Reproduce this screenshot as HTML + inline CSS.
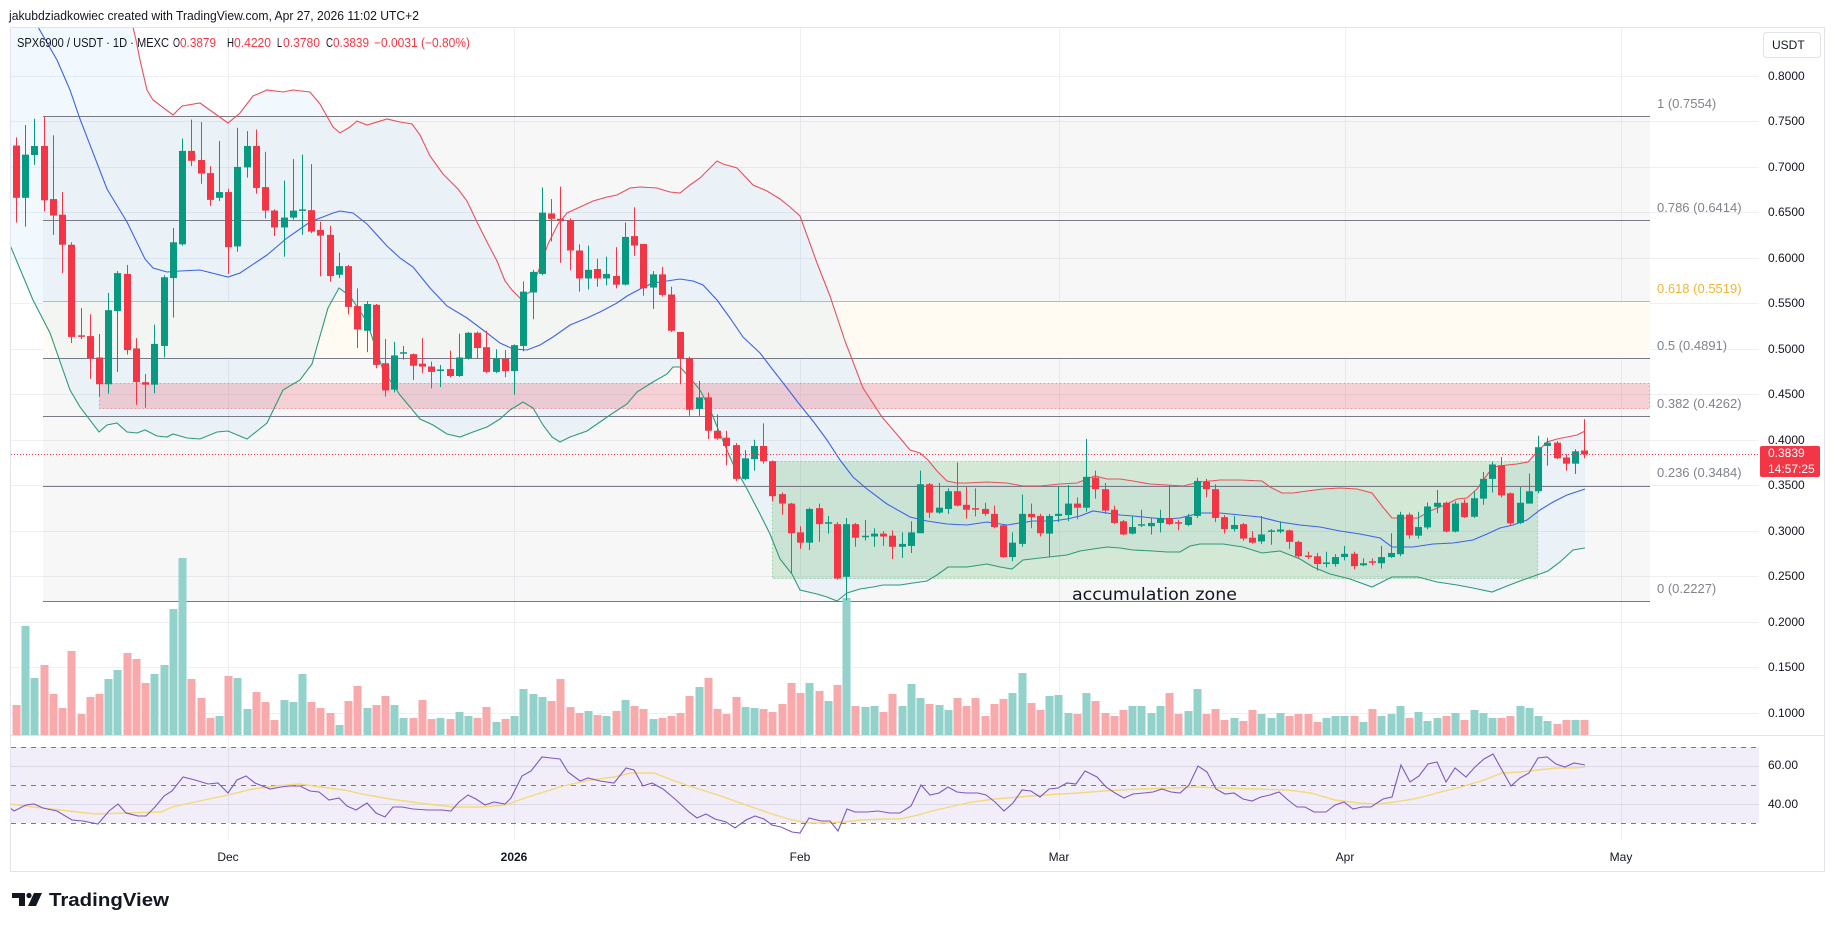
<!DOCTYPE html>
<html><head><meta charset="utf-8">
<style>
html,body{margin:0;padding:0;background:#fff;width:1835px;height:931px;overflow:hidden}
svg{display:block;font-family:"Liberation Sans",Arial,sans-serif}
</style></head>
<body>
<svg id="s" width="1835" height="931" viewBox="0 0 1835 931" xmlns="http://www.w3.org/2000/svg">
<defs>
<clipPath id="cm"><rect x="11" y="28" width="1748" height="707"/></clipPath>
<clipPath id="cr"><rect x="11" y="736" width="1748" height="104"/></clipPath>
</defs>
<rect x="0" y="0" width="1835" height="931" fill="#fff"/>
<rect x="10.5" y="27.5" width="1814" height="844" fill="#fff" stroke="#e0e3eb"/>

<!-- grid -->
<g stroke="#eef0f4" stroke-width="1">
<line x1="11" x2="1759" y1="76.5" y2="76.5"/><line x1="11" x2="1759" y1="121.5" y2="121.5"/>
<line x1="11" x2="1759" y1="167.5" y2="167.5"/><line x1="11" x2="1759" y1="212.5" y2="212.5"/>
<line x1="11" x2="1759" y1="258.5" y2="258.5"/><line x1="11" x2="1759" y1="303.5" y2="303.5"/>
<line x1="11" x2="1759" y1="349.5" y2="349.5"/><line x1="11" x2="1759" y1="394.5" y2="394.5"/>
<line x1="11" x2="1759" y1="440.5" y2="440.5"/><line x1="11" x2="1759" y1="485.5" y2="485.5"/>
<line x1="11" x2="1759" y1="531.5" y2="531.5"/><line x1="11" x2="1759" y1="576.5" y2="576.5"/>
<line x1="11" x2="1759" y1="622.5" y2="622.5"/><line x1="11" x2="1759" y1="667.5" y2="667.5"/>
<line x1="11" x2="1759" y1="713.5" y2="713.5"/>
<line x1="228.5" x2="228.5" y1="28" y2="840"/><line x1="514.5" x2="514.5" y1="28" y2="840"/>
<line x1="800.5" x2="800.5" y1="28" y2="840"/><line x1="1059.5" x2="1059.5" y1="28" y2="840"/>
<line x1="1345.5" x2="1345.5" y1="28" y2="840"/><line x1="1621.5" x2="1621.5" y1="28" y2="840"/>
</g>

<!-- fib backgrounds -->
<rect x="43" y="116" width="1607" height="485" fill="rgba(120,123,134,0.06)"/>
<rect x="43" y="301" width="1607" height="57" fill="#fffbf2"/>

<!-- BB fill -->
<g clip-path="url(#cm)"><polygon id="bbf" fill="rgba(33,150,243,0.06)" points=""/></g>

<!-- zones -->
<rect x="99.5" y="383.5" width="1550" height="25" fill="rgba(242,54,69,0.2)" stroke="rgba(242,54,69,0.45)" stroke-dasharray="2,2"/>
<rect x="772.5" y="461.5" width="765" height="117" fill="rgba(76,175,80,0.2)" stroke="rgba(76,175,80,0.45)" stroke-dasharray="2,2"/>

<!-- fib lines -->
<g stroke="#787b86" stroke-width="1">
<line x1="43" x2="1650" y1="116.5" y2="116.5"/>
<line x1="43" x2="1650" y1="220.5" y2="220.5"/>
<line x1="43" x2="1650" y1="358.5" y2="358.5"/>
<line x1="43" x2="1650" y1="416.5" y2="416.5"/>
<line x1="43" x2="1650" y1="486.5" y2="486.5"/>
<line x1="43" x2="1650" y1="601.5" y2="601.5"/>
</g>
<line x1="43" x2="1650" y1="301.5" y2="301.5" stroke="#f5b52e" stroke-width="1"/>

<g id="vol"></g>

<!-- BB lines -->
<g clip-path="url(#cm)" fill="none" stroke-width="1.1">
<polyline id="bbu" stroke="#e8505c" points="133,27 136,40 140,60 147,90 153,100 173,115 182,106 200,103 228,123 240,113 253,96 267,90 283,92 293,90 310,92 320,104 333,127 340,133 350,127 357,121 367,125 387,119 400,122 412,124 420,135 430,156 443,174 458,189 467,201 477,222 487,242 497,261 505,281 512,290 520,298 530,292 540,267 548,244 558,224 567,213 580,207 593,201 607,197 617,195 630,188 640,187 657,188 670,192 680,193 690,185 700,178 717,161 723,164 737,168 753,185 767,191 780,199 790,207 800,216 817,263 830,296 845,341 863,388 882,417 900,438 910,450 920,453 928,460 937,471 947,481 957,483 967,483 987,482 1007,483 1023,486 1040,486 1060,484 1077,483 1087,479 1095,476 1107,479 1120,479 1133,481 1150,484 1167,485 1183,486 1200,482 1220,480 1240,480 1262,481 1270,487 1282,493 1293,493 1307,491 1323,489 1340,488 1357,489 1372,493 1382,506 1392,518 1403,518 1418,518 1430,511 1447,504 1457,499 1467,498 1477,489 1487,475 1493,467 1507,465 1517,464 1528,462 1537,452 1547,442 1557,439 1567,437 1577,435 1585,431"/>
<polyline stroke="#3d63e8" points="38,27 57,60 70,90 80,119 107,189 127,222 145,259 153,268 167,272 180,271 200,270 228,277 240,273 267,255 287,238 310,222 333,213 340,211 353,213 367,224 387,246 400,258 413,267 430,288 447,306 467,318 487,333 500,343 513,349 527,350 540,345 553,337 570,325 587,318 600,312 617,303 627,296 640,289 653,283 667,281 680,279 693,281 703,285 717,300 730,318 743,337 760,353 773,370 787,388 800,405 813,421 827,440 840,460 853,477 867,489 887,504 910,517 927,521 947,524 967,525 987,522 1007,525 1020,523 1033,521 1053,521 1067,519 1080,516 1093,511 1107,513 1120,515 1133,516 1153,518 1167,519 1180,518 1200,513 1220,513 1240,515 1260,517 1280,522 1300,525 1320,527 1340,531 1360,534 1380,538 1392,547 1413,547 1433,544 1453,543 1473,540 1487,534 1500,528 1513,525 1527,520 1540,510 1553,502 1567,495 1585,489"/>
<polyline id="bbl" stroke="#2f9a78" points="10,245 33,300 50,333 70,390 80,407 99,432 107,425 117,423 127,432 137,433 145,430 157,436 167,437 173,434 187,438 200,439 217,432 228,431 247,439 267,423 283,390 300,380 312,364 328,308 339,288 350,296 367,322 383,370 400,395 410,407 420,419 433,425 447,434 460,437 473,432 487,427 500,419 510,410 523,402 533,408 543,425 552,437 560,442 570,437 587,431 600,422 613,413 627,404 637,392 653,382 667,374 673,367 680,367 690,378 700,390 710,409 720,434 733,464 747,489 760,514 770,534 780,559 792,574 800,590 817,594 827,597 837,601 847,593 860,589 873,587 883,585 900,585 913,583 927,581 937,575 948,567 967,567 987,564 1000,567 1012,569 1023,560 1040,558 1067,555 1080,551 1093,549 1107,547 1120,548 1133,550 1153,551 1167,552 1180,552 1190,546 1200,544 1223,544 1243,547 1262,553 1280,551 1300,559 1313,567 1330,574 1350,579 1372,587 1392,577 1418,577 1437,582 1457,585 1473,588 1492,592 1507,586 1520,581 1537,575 1548,571 1560,562 1573,550 1585,548"/>
</g>

<g id="cnd"></g>

<!-- current price line -->
<line x1="11" x2="1759" y1="454.5" y2="454.5" stroke="#f23645" stroke-width="1" stroke-dasharray="1,2"/>

<!-- accumulation text -->
<text x="1072" y="600" font-family="'DejaVu Sans','Liberation Sans',sans-serif" font-size="17" fill="#131722" textLength="165" lengthAdjust="spacingAndGlyphs">accumulation zone</text>

<!-- pane separator -->
<line x1="11" x2="1824" y1="735.5" y2="735.5" stroke="#e0e3eb"/>

<!-- RSI pane -->
<rect x="11" y="747" width="1748" height="76" fill="rgba(126,87,194,0.1)"/>
<g stroke="rgba(120,123,134,0.18)"><line x1="11" x2="1759" y1="766.5" y2="766.5"/><line x1="11" x2="1759" y1="804.5" y2="804.5"/></g>
<g stroke="#787b86" stroke-dasharray="5,5" stroke-width="1">
<line x1="11" x2="1759" y1="747.5" y2="747.5"/><line x1="11" x2="1759" y1="785.5" y2="785.5"/><line x1="11" x2="1759" y1="823.5" y2="823.5"/>
</g>
<g clip-path="url(#cr)" fill="none">
<polyline stroke="#f3d97a" stroke-width="1.4" points="10,804 34,807 69,811 95,814 126,813 161,812 172,807 195,802 228,795 253,789 276,786 299,784 321,787 344,790 367,795 390,799 419,803 453,807 482,807 505,805 528,797 563,786 591,780 614,777 631,773 654,773 672,780 689,786 718,795 746,805 772,814 792,820 809,823 827,823 844,822 861,820 884,819 900,819 918,815 936,810 954,806 972,802 995,799 1019,797 1043,795 1079,793 1103,791 1139,789 1174,788 1198,787 1222,788 1258,789 1288,790 1311,793 1335,800 1359,803 1377,804 1395,802 1419,798 1437,793 1461,787 1484,780 1502,773 1520,772 1538,770 1556,768 1574,768 1585,767"/>
<polyline stroke="#7e57c2" stroke-width="1.1" points="10,808 14,811 26,805 34,804 43,808 57,811 72,820 83,821 98,824 109,811 118,804 126,813 138,816 146,816 155,807 164,796 172,791 183,777 195,780 208,784 218,783 228,793 237,780 246,776 255,783 270,789 281,787 290,786 300,786 310,791 319,792 329,800 339,798 347,806 356,810 367,803 376,813 385,817 393,807 402,807 413,809 428,810 442,810 451,811 459,802 468,795 476,799 485,805 494,802 505,804 511,798 522,776 531,771 542,757 551,758 560,759 568,772 580,781 588,778 600,781 614,783 626,768 634,770 643,786 652,783 663,789 675,799 689,812 697,818 706,814 715,819 726,822 735,828 746,820 755,816 764,819 772,825 781,827 792,832 800,833 809,818 821,821 830,821 838,831 847,809 855,812 867,812 878,811 890,813 900,813 911,806 921,785 930,795 939,793 948,787 957,792 966,793 978,793 986,795 995,802 1004,811 1013,803 1022,790 1031,791 1040,797 1049,789 1058,788 1067,783 1076,784 1085,771 1097,777 1106,787 1115,793 1124,798 1133,794 1144,793 1153,792 1162,789 1171,792 1180,793 1189,785 1198,766 1207,772 1216,789 1225,794 1234,793 1243,799 1252,801 1261,797 1270,795 1279,792 1288,800 1297,807 1305,807 1314,812 1326,812 1335,805 1344,802 1353,809 1362,807 1371,807 1383,799 1392,797 1401,765 1410,782 1419,776 1428,764 1437,762 1446,782 1455,768 1466,777 1475,767 1484,759 1493,754 1502,770 1511,786 1520,778 1529,773 1538,758 1547,757 1556,764 1565,767 1574,763 1585,765"/>
</g>

<!-- header texts -->
<text x="9" y="20" font-size="12.5" fill="#131722" textLength="410" lengthAdjust="spacingAndGlyphs">jakubdziadkowiec created with TradingView.com, Apr 27, 2026 11:02 UTC+2</text>
<g font-size="12.5" fill="#131722">
<text x="17" y="47" textLength="152" lengthAdjust="spacingAndGlyphs">SPX6900 / USDT · 1D · MEXC</text>
<text x="173" y="47" textLength="7" lengthAdjust="spacingAndGlyphs">O</text><text x="180" y="47" fill="#f23645" textLength="36" lengthAdjust="spacingAndGlyphs">0.3879</text>
<text x="227" y="47" textLength="7" lengthAdjust="spacingAndGlyphs">H</text><text x="234" y="47" fill="#f23645" textLength="37" lengthAdjust="spacingAndGlyphs">0.4220</text>
<text x="277" y="47" textLength="5" lengthAdjust="spacingAndGlyphs">L</text><text x="283" y="47" fill="#f23645" textLength="37" lengthAdjust="spacingAndGlyphs">0.3780</text>
<text x="326" y="47" textLength="7" lengthAdjust="spacingAndGlyphs">C</text><text x="333" y="47" fill="#f23645" textLength="36" lengthAdjust="spacingAndGlyphs">0.3839</text>
<text x="374" y="47" fill="#f23645" textLength="96" lengthAdjust="spacingAndGlyphs">−0.0031 (−0.80%)</text>
</g>

<!-- USDT box -->
<rect x="1763.5" y="32.5" width="57" height="25" rx="3" fill="#fff" stroke="#e0e3eb"/>
<text x="1772" y="49" font-size="12" fill="#131722">USDT</text>

<!-- price axis -->
<g font-size="12" fill="#131722">
<text x="1768" y="80">0.8000</text><text x="1768" y="125">0.7500</text>
<text x="1768" y="171">0.7000</text><text x="1768" y="216">0.6500</text>
<text x="1768" y="262">0.6000</text><text x="1768" y="307">0.5500</text>
<text x="1768" y="353">0.5000</text><text x="1768" y="398">0.4500</text>
<text x="1768" y="444">0.4000</text><text x="1768" y="489">0.3500</text>
<text x="1768" y="535">0.3000</text><text x="1768" y="580">0.2500</text>
<text x="1768" y="626">0.2000</text><text x="1768" y="671">0.1500</text>
<text x="1768" y="717">0.1000</text>
<text x="1768" y="769">60.00</text><text x="1768" y="808">40.00</text>
</g>
<rect x="1760" y="446" width="60" height="31" rx="2" fill="#f23645"/>
<text x="1768" y="457" font-size="12" fill="#fff">0.3839</text>
<text x="1768" y="473" font-size="12" fill="#fff">14:57:25</text>

<!-- fib labels -->
<g font-size="13" fill="#80838c">
<text x="1657" y="108">1 (0.7554)</text>
<text x="1657" y="212">0.786 (0.6414)</text>
<text x="1657" y="293" fill="#f2b433">0.618 (0.5519)</text>
<text x="1657" y="350">0.5 (0.4891)</text>
<text x="1657" y="408">0.382 (0.4262)</text>
<text x="1657" y="477">0.236 (0.3484)</text>
<text x="1657" y="593">0 (0.2227)</text>
</g>

<!-- time axis -->
<g font-size="12" fill="#131722" text-anchor="middle">
<text x="228" y="861">Dec</text>
<text x="514" y="861" font-weight="bold">2026</text>
<text x="800" y="861">Feb</text>
<text x="1059" y="861">Mar</text>
<text x="1345" y="861">Apr</text>
<text x="1621" y="861">May</text>
</g>

<!-- TradingView logo -->
<g fill="#131722">
<path d="M12 893 H25 V906 H19 V898 H12 Z"/>
<circle cx="29" cy="895.5" r="2.6"/>
<path d="M34 893 H42 L36 906 H28 Z"/>
</g>
<text x="49" y="906" font-size="18" font-weight="bold" fill="#131722" textLength="120" lengthAdjust="spacingAndGlyphs">TradingView</text>
</svg>

<script>
(function(){
var NS="http://www.w3.org/2000/svg";
function mk(t,a,p){var e=document.createElementNS(NS,t);for(var k in a)e.setAttribute(k,a[k]);p.appendChild(e);return e;}
var D=("r135,262,115,322 g157,262,85,332 g136,158,70,182 r136,268,65,295 r265,305,110,352 r303,376,248,445 r376,600,370,615 r598,601,530,605 r598,652,545,702 r650,715,593,745 g535,715,493,738 g445,537,440,685 r447,632,425,643 r628,710,603,765 r710,716,690,772 g617,716,570,737 g455,622,450,650 g370,457,335,553 g148,375,118,378 r148,172,72,185 r170,203,78,228 r202,267,185,282 g248,262,124,270 r248,382,240,447 g187,380,92,393 g136,188,100,213 r136,238,96,252 r236,293,150,312 r293,334,290,355 g310,334,220,405 g293,310,168,315 g292,295,157,352 r292,344,180,348 r340,354,320,453 r352,452,330,466 g428,449,395,457 r428,527,425,545 r525,582,482,627 g520,585,513,637 r522,668,520,676 r664,730,605,745 g645,728,612,735 "+
"g639,642,622,655 r642,670,640,705 r665,672,603,688 r672,685,660,725 g681,683,668,722 r678,695,633,698 g650,695,592,697 g590,652,588,655 r590,627,587,652 r625,685,585,688 g652,685,630,688 r653,683,632,698 g620,683,618,740 g490,622,465,635 g442,492,437,557 g298,447,237,450 r300,313,265,368 r313,318,235,420 r316,390,312,438 r390,458,375,490 g437,458,378,485 r435,458,410,478 g447,458,405,475 r452,473,382,482 g357,473,322,475 r355,378,285,403 r374,482,374,500 g448,480,440,532 r448,498,430,502 r497,585,478,588 r588,652,588,715 r652,777,648,792 g747,775,707,792 r747,828,735,848 r828,847,788,850 r845,865,828,912 r863,945,858,950 g895,945,875,948 g865,897,850,925 r865,902,810,908 r902,987,900,1000 r982,1005,978,1032 r1005,1077,1003,1175 "+
"r1075,1100,1060,1115 g1018,1100,1015,1118 r1016,1055,1005,1098 g1052,1055,1035,1078 r1055,1187,1050,1190 g1055,1183,1040,1240 r1055,1088,1052,1110 g1085,1088,1045,1095 g1078,1085,1065,1110 r1078,1085,1072,1108 r1083,1110,1070,1140 g1103,1110,1075,1137 g1075,1108,1048,1125 g958,1077,925,1077 r958,1027,955,1040 g1015,1027,955,1030 g975,1018,968,1030 r975,1010,905,1012 r1008,1020,965,1042 r1018,1020,968,1036 r1018,1030,1003,1035 r1030,1062,1010,1065 r1058,1135,1055,1137 g1100,1135,1075,1145 g1030,1103,983,1110 r1030,1038,1005,1065 r1035,1077,1030,1085 g1035,1078,1030,1135 g1030,1035,963,1050 g1005,1033,960,1048 r1005,1015,990,1043 g940,1015,848,1025 r942,970,925,993 r970,1022,955,1030 r1020,1052,1010,1055 r1048,1080,1045,1082 g1062,1078,1035,1080 g1057,1059,1020,1062 g1052,1060,1040,1080 g1040,1052,1020,1075 r1040,1055,960,1058 r1052,1055,1045,1070 g1037,1057,1030,1060 g950,1035,942,1040 "+
"r952,970,945,990 r970,1040,958,1050 r1038,1067,1033,1078 g1057,1067,1035,1073 r1055,1090,1052,1095 r1088,1100,1072,1102 g1080,1097,1035,1103 g1072,1075,1067,1105 g1068,1073,1048,1077 r1070,1098,1068,1115 r1098,1133,1095,1137 r1133,1136,1122,1140 r1133,1152,1125,1168 g1150,1152,1122,1160 g1135,1152,1128,1158 g1127,1135,1108,1143 r1127,1157,1122,1165 g1150,1155,1138,1157 r1147,1149,1138,1155 g1135,1150,1108,1163 g1125,1135,1077,1137 g1032,1128,1025,1133 r1032,1082,1027,1090 g1062,1083,1025,1090 g1012,1063,1002,1068 g1003,1013,972,1028 r1003,1073,1000,1075 g1005,1073,1000,1075 r1003,1038,995,1040 g992,1037,975,1040 g945,993,928,1008 g910,945,903,978 r912,985,892,990 r980,1053,978,1057 g1003,1052,965,1055 g975,1005,932,1005 g868,975,840,980 g857,865,845,913 r857,895,853,897 r893,908,885,925 g878,908,873,933 r876,885,800,895").split(" ");
var V=[705,626,678,665,694,708,651,714,697,694,679,670,653,659,683,674,665,609,558,679,698,718,716,676,678,709,692,702,720,700,702,674,702,708,713,725,701,686,708,705,696,705,
718,718,700,719,718,719,712,716,718,707,722,719,716,689,694,697,701,679,707,713,711,715,716,711,700,706,709,719,718,716,713,696,687,678,709,714,697,707,708,709,712,704,683,
693,683,691,701,685,598,706,707,706,712,694,706,684,698,704,705,710,698,706,698,716,704,699,693,673,703,710,696,695,713,714,693,701,713,716,710,706,706,713,706,693,714,711,689,
714,709,720,718,721,710,714,718,713,716,714,714,722,718,716,716,716,722,709,716,714,706,718,712,721,718,716,713,720,710,713,718,718,716,706,708,716,721,724,720,720,720];
var gv=document.getElementById("vol"),gc=document.getElementById("cnd");
function f(z){return 90+z/2.43;}
for(var i=0;i<D.length;i++){
 var s=D[i];if(!s)continue;
 var up=s.charAt(0)=="g";var n=s.slice(1).split(",").map(Number);
 var bt=f(n[0]),bb=f(n[1]),wt=f(n[2]),wb=f(n[3]);
 var xc=Math.round(16+i*9.225);
 var col=up?"#089981":"#f23645";
 var v=V[i]||720;
 mk("rect",{x:xc-3.5,y:v,width:8,height:735-v,fill:up?"#92d2cb":"#f7a9ab"},gv);
 mk("rect",{x:xc,y:wt,width:1,height:Math.max(1,wb-wt),fill:col},gc);
 var h=bb-bt;if(h<1.5){bt-=0.75;h=1.5;}
 mk("rect",{x:xc-3,y:bt,width:7,height:h,fill:col},gc);
}
var up=document.getElementById("bbu").getAttribute("points").trim().split(/\s+/);
var lo=document.getElementById("bbl").getAttribute("points").trim().split(/\s+/).reverse();
document.getElementById("bbf").setAttribute("points",["10,27"].concat(up).concat(lo).join(" "));
})();
</script>
</body></html>
